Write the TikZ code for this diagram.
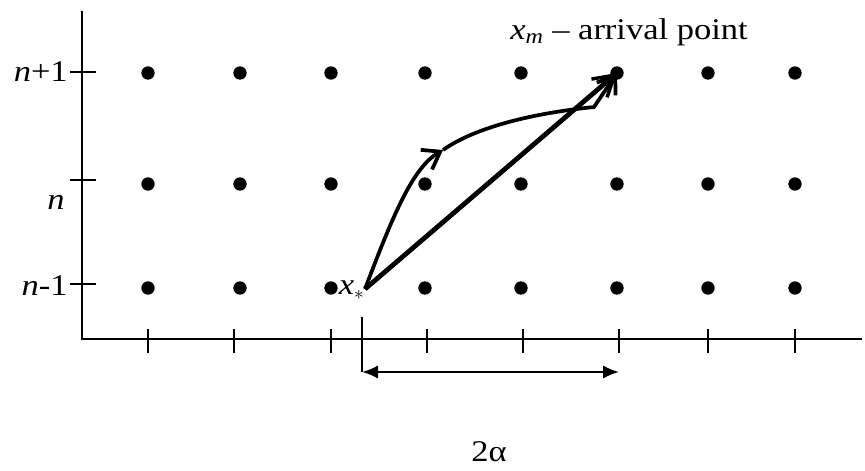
\documentclass[tikz,border=0pt]{standalone}
\usepackage{fontspec}
\setmainfont[FakeStretch=1.15]{Liberation Serif}
\usetikzlibrary{arrows.meta}

\begin{document}
\begin{tikzpicture}[x=0.75pt,y=-0.75pt,
  lbl/.style={inner sep=0pt,font=\fontsize{22.5}{26}\selectfont},
  gridpt/.style={circle,fill=black,inner sep=0pt,minimum size=10pt},
  tick/.style={line width=1.5pt}]
  \useasboundingbox (0,0) rectangle (865,471);
  % axes
  \coordinate (ytop) at (82,11); \coordinate (orig) at (82,339); \coordinate (xend) at (862,339);
  \draw[line width=1.5pt] (ytop) -- (orig) -- (xend);
  \draw[tick] (70,72)--(96,72); \draw[tick] (70,180)--(96,180); \draw[tick] (70,284)--(96,284);
  \foreach \x in {148,234,331,427,523,619,708,795} \draw[tick] (\x,329)--(\x,353);
  \node[lbl,anchor=east] (np1) at (68,72) {\textit{n}+1};
  \node[lbl] (nn) at (56,202) {\textit{n}};
  \node[lbl,anchor=east] (nm1) at (68,286) {\textit{n}-1};
  % lattice points
  \foreach \x [count=\i] in {148,240,331,425,521,617,708,795}
    \foreach \y [count=\j] in {73,184,288}
      \node[gridpt] (p\i\j) at (\x,\y) {};
  % start point and arrival point
  \coordinate (xs) at (365,289);
  \coordinate (bend) at (443,150);
  \coordinate (knee) at (594,107);
  \node[lbl,anchor=east] (xslbl) at (364,290) {\textit{x}\raisebox{-0.35ex}{\fontsize{15}{16}\selectfont$\ast$}};
  \node[lbl,anchor=base west] (xmlbl) at (510,39) {\textit{x}\textsubscript{\textit{m}} – arrival point};
  \draw[line width=3.6pt,-{Straight Barb[length=15pt,width=18pt,line width=2.6pt]}] (xs) -- (p61.center);
  \draw[line width=2.8pt,-{Straight Barb[length=12pt,width=17pt]}] (xs) .. controls (392,218) and (412,168) .. (bend);
  \draw[line width=2.8pt,-{Straight Barb[length=12pt,width=17pt]}] (bend) .. controls (480,124) and (545,112) .. (knee) -- (p61.center);
  % width of the window
  \coordinate (wl) at (362,372); \coordinate (wr) at (619,372);
  \draw[tick] (362,317) -- (wl);
  \draw[line width=1.5pt,{Latex[length=12pt,width=10pt]}-{Latex[length=12pt,width=10pt]}] (wl) -- (wr);
  \node[lbl] (alpha) at (489,452) {2α};
\end{tikzpicture}
\end{document}
